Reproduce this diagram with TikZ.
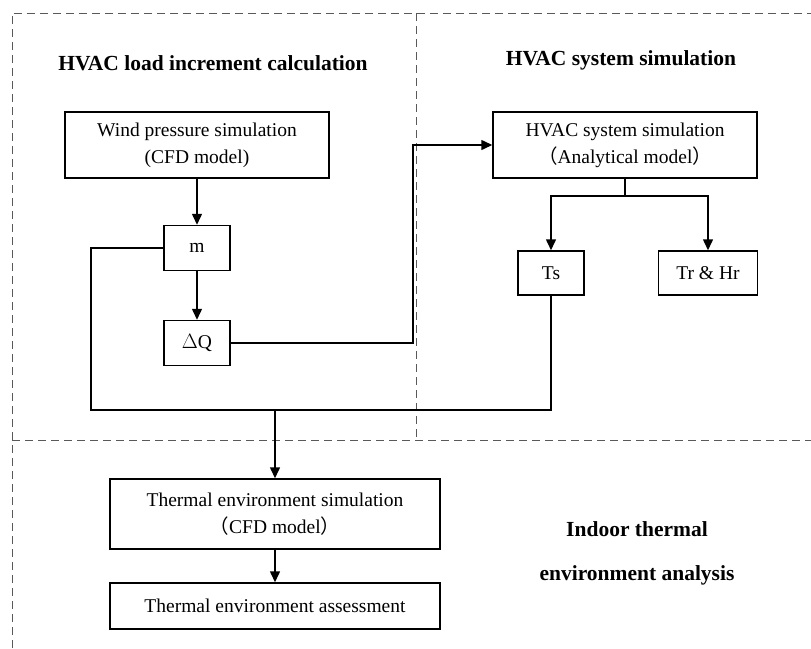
\documentclass[tikz,border=0pt]{standalone}
\usepackage{fontspec}
\setmainfont{Liberation Serif}
\newfontfamily\cjk{Noto Sans CJK SC}
\usepackage{tikz}
\usetikzlibrary{arrows.meta}

\tikzset{
  block/.style={draw, line width=1.5pt, align=center, font=\fontsize{19.5}{27}\selectfont},
  title/.style={align=center, font=\fontsize{21.5}{44}\selectfont\bfseries},
  region/.style={draw=black!65, line width=1pt, dash pattern=on 8pt off 5pt},
  flow/.style={line width=1.5pt},
  >={Triangle[length=11pt,width=10pt]}
}

\begin{document}
\begin{tikzpicture}[x=1pt, y=-1pt]
            \useasboundingbox (0,0) rectangle (811,648);

            % Draw dashed regions
            \draw[region] (12,648) -- (12,13) -- (811,13);
            \draw[region] (416,13) -- (416,440);
            \draw[region] (12,440) -- (811,440);

            % Draw titles
            \node[title] (tload) at (213,63) {HVAC load increment calculation};
            \node[title] (tsys) at (621,60) {HVAC system simulation};
            \node[title] (tenv) at (637,553) {Indoor thermal\\environment analysis};

            % Draw boxes
            \node[block, minimum width=264pt, minimum height=66pt] (wind) at (197,145) {Wind pressure simulation\\(CFD model)};
            \node[block, minimum width=264pt, minimum height=66pt] (hvac) at (625,145) {HVAC system simulation\\{\cjk （}Analytical model{\cjk ）}};
            \node[block, minimum width=66pt, minimum height=45pt] (m) at (197,248) {m};
            \node[block, minimum width=66pt, minimum height=45pt] (dq) at (197,343) {$\Delta$Q};
            \node[block, minimum width=66pt, minimum height=44pt] (ts) at (551,273) {Ts};
            \node[block, minimum width=99pt, minimum height=44pt] (trhr) at (708,273) {Tr \& Hr};
            \node[block, minimum width=330pt, minimum height=70pt] (thermal) at (275,514) {Thermal environment simulation\\{\cjk （}CFD model{\cjk ）}};
            \node[block, minimum width=330pt, minimum height=46pt] (assess) at (275,606) {Thermal environment assessment};

            % Corner points of the return loop
            \coordinate (loop) at (91,410);
            \coordinate (join) at (275,410);

            % Connect boxes with arrows
            \draw[flow, ->] (wind) -- (m);
            \draw[flow, ->] (m) -- (dq);
            \draw[flow, ->] (dq.east) -- ++(182,0) |- (hvac.west);
            \draw[flow, ->] (hvac.south) -- ++(0,17) -| (ts.north);
            \draw[flow, ->] (hvac.south) -- ++(0,17) -| (trhr.north);
            \draw[flow] (m.west) -| (loop) -| (ts.south);
            \draw[flow, ->] (join) -- (thermal.north);
            \draw[flow, ->] (thermal) -- (assess);
          \end{tikzpicture}
\end{document}
